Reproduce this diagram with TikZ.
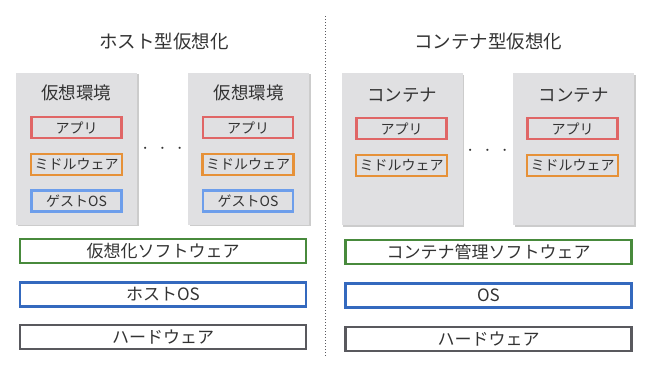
\documentclass[tikz,border=0pt]{standalone}
\usepackage{fontspec}
\setmainfont{Noto Sans CJK JP}
\usepackage{xcolor}
\usetikzlibrary{
  positioning,
  shadows
}
\definecolor{xink}{RGB}{51,51,51}
\definecolor{xpanel}{RGB}{224,224,226}
\definecolor{xred}{RGB}{224,102,102}
\definecolor{xorange}{RGB}{230,145,56}
\definecolor{xsky}{RGB}{109,158,235}
\definecolor{xgreen}{RGB}{72,138,60}
\definecolor{xblue}{RGB}{52,105,190}
\definecolor{xslate}{RGB}{89,89,94}
\newcommand{\threedots}{$\cdot\hspace{7pt}\cdot\hspace{7pt}\cdot$}

\begin{document}
\begin{tikzpicture}[x=1pt, y=-1pt,
  panel/.style={fill=xpanel, draw=none,
                minimum width=121pt, minimum height=152pt,
                drop shadow={shadow xshift=1.5pt, shadow yshift=-1.5pt, fill=black!40, opacity=0.5}},
  inner/.style={draw=#1, fill=xpanel, line width=2.5pt,
                minimum width=90pt, minimum height=21pt,
                font=\fontsize{14}{16}\selectfont, text=xink},
  layer/.style={draw=#1, fill=white, line width=2.5pt,
                minimum width=286pt, minimum height=24pt,
                font=\fontsize{17}{19}\selectfont, text=xink},
  head/.style={font=\fontsize{17.5}{19}\selectfont, text=xink},
  title/.style={font=\fontsize{18.5}{20}\selectfont, text=xink},
  dots/.style={text=xink, font=\huge}
]
  \useasboundingbox (0,0) rectangle (651,370);

  % host-based side
  \node[title] (hosttitle) at (164, 42) {ホスト型仮想化};

  \node[panel] (vm1) at (76.5, 148.5) {};
  \node[panel] (vm2) at (248.5, 148.5) {};
  \node[head]  (vmhead1) at (76.5, 93) {仮想環境};
  \node[head]  (vmhead2) at (248.5, 93) {仮想環境};
  \node[inner=xred]    (app1) at (76.5, 127.5) {アプリ};
  \node[inner=xorange] (mid1) at (76.5, 164.5) {ミドルウェア};
  \node[inner=xsky]    (gos1) at (76.5, 201)   {ゲストOS};
  \node[inner=xred]    (app2) at (248, 127.5) {アプリ};
  \node[inner=xorange] (mid2) at (248, 164.5) {ミドルウェア};
  \node[inner=xsky]    (gos2) at (248, 201)   {ゲストOS};
  \node[dots] (dotsL) at (162.5, 149) {\threedots};

  \node[layer=xgreen] (hypv)  at (163, 251)   {仮想化ソフトウェア};
  \node[layer=xblue]  (hos)   at (163, 294.5) {ホストOS};
  \node[layer=xslate] (hwL)   at (163, 337)   {ハードウェア};

  % divider
  \coordinate (divtop) at (325, 16);
  \coordinate (divbot) at (325, 357);
  \draw[xslate, line width=1pt, dotted] (divtop) -- (divbot);

  % container side
  \node[title] (cttitle) at (488, 42) {コンテナ型仮想化};

  \node[panel] (ct1) at (402, 149) {};
  \node[panel] (ct2) at (573.5, 149) {};
  \node[head]  (cthead1) at (402, 95) {コンテナ};
  \node[head]  (cthead2) at (573.5, 95) {コンテナ};
  \node[inner=xred]    (app3) at (401.5, 128.5) {アプリ};
  \node[inner=xorange] (mid3) at (401.5, 165.5) {ミドルウェア};
  \node[inner=xred]    (app4) at (572.5, 128.5) {アプリ};
  \node[inner=xorange] (mid4) at (572.5, 165.5) {ミドルウェア};
  \node[dots] (dotsR) at (487.5, 151) {\threedots};

  \node[layer=xgreen] (cmgr) at (488.5, 252)   {コンテナ管理ソフトウェア};
  \node[layer=xblue]  (os)   at (488.5, 295.5) {OS};
  \node[layer=xslate] (hwR)  at (488.5, 339)   {ハードウェア};
\end{tikzpicture}
\end{document}
